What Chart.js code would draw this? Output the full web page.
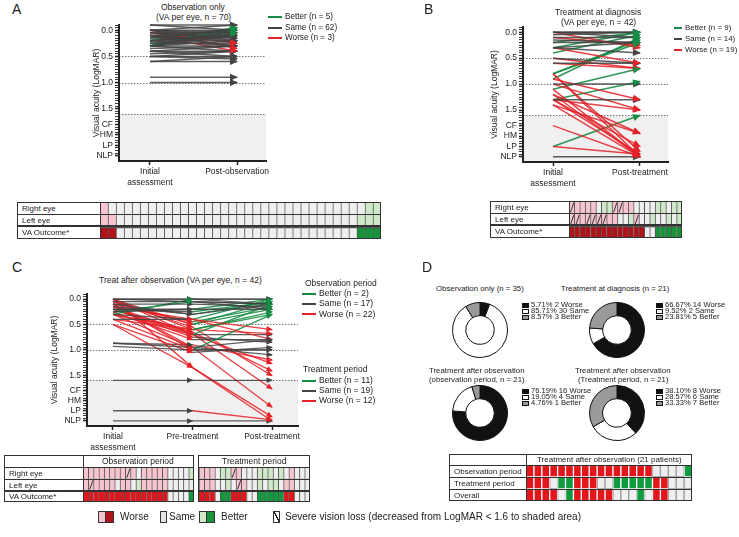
<!DOCTYPE html>
<html lang="en">
<head>
<meta charset="UTF-8" />
<title>Visual acuity outcomes</title>
<script src="https://cdn.jsdelivr.net/npm/chart.js@4.4.0/dist/chart.umd.min.js"></script>
<style>
  html, body { margin:0; padding:0; background:#fff; }
  body { position:relative; width:739px; height:537px; overflow:hidden; font-family:Arial, "Liberation Sans", sans-serif; color:#222; }
  canvas { position:absolute; }
  .t { position:absolute; white-space:nowrap; -webkit-font-smoothing:antialiased; }
  .r { position:absolute; box-sizing:border-box; }
</style>
</head>
<body>
<script>
// ---------- data ----------
// panel A, observation only : [initial, post-observation] LogMAR per eye
const aSame = [[-0.1,-0.1],[-0.1,0],[0,-0.1],[0,0],[0,0.1],[0,0.2],[0.05,0.05],[0.05,0.15],[0.1,0.1],[0.1,0],
  [0.1,0.2],[0.1,0.3],[0.15,0.15],[0.2,0.2],[0.2,0.1],[0.2,0.3],[0.2,0.05],[0.25,0.25],[0.3,0.3],[0.3,0.2],
  [0.3,0.1],[0.3,0.4],[0.35,0.3],[0.4,0.4],[0.4,0.3],[0.4,0.5],[0.45,0.4],[0.5,0.5],[0.5,0.55],[0.5,0.4],
  [0.6,0.6],[0.6,0.5],[0.9,0.9],[1.0,1.0],[0.15,0.0],[0.25,0.1],[0.0,0.05]];
const aBetter = [[0.2,0.0],[0.3,0.0],[0.3,-0.05],[0.2,-0.05],[0.3,0.05]];
const aWorse = [[0.05,0.25],[0.0,0.35],[0.1,0.4]];

// panel B, treatment at diagnosis : [initial, post-treatment]
const bSame = [[0,0],[0,0.1],[0.05,0.0],[0.1,0.1],[0.2,0.2],[0.15,0.2],[0.3,0.2],[0.3,0.4],[0.5,0.6],[0.6,0.6],
  [1.0,1.0],[1.3,1.3],[2.4,2.4],[0,0]];
const bBetter = [[0.3,0.0],[0.4,0.05],[0.8,0.15],[0.8,0.2],[0.9,0.1],[1.1,0.7],[1.3,0.95],[2.2,1.6],[0.2,0.0]];
const bWorse = [[0.0,0.3],[0.1,0.25],[0.3,0.6],[0.5,0.7],[0.6,0.7],[0.8,2.4],[0.8,2.3],[0.9,1.3],[1.0,1.5],[1.1,2.4],
  [1.2,1.95],[1.2,2.4],[1.3,2.2],[1.3,2.35],[1.4,2.4],[1.4,1.95],[1.8,2.4],[1.3,1.5],[2.2,2.35]];

// panel C, treat after observation : initial / pre-treatment / post-treatment, outcome codes per period
const cInit = [0.0,0.0,0.1,0.2,0.15,0.3,0.4,0.87,0.93,1.6,2.2,2.4,0.0,0.2,0.1,0.25,0.05,0.3,0.25,0.0,0.0,
  0.05,0.1,0.1,0.2,0.15,0.3,0.0,0.2,0.3,0.4,0.5,0.25,0.0,0.1,0.5,0.2,0.3,0.15,0.4,0.05,0.87];
const cPre = [0.0,0.05,0.1,0.2,0.3,0.4,0.4,0.95,1.0,1.6,2.2,2.4,0.0,0.25,0.3,0.2,0.05,0.0,0.05,0.5,0.6,
  0.5,0.45,1.0,0.7,0.4,0.6,0.7,0.75,0.95,1.0,1.05,0.8,1.35,0.95,1.35,0.65,0.7,0.68,0.6,0.55,0.9];
const cPost = [0.0,0.1,0.15,0.2,0.1,0.6,0.8,0.8,1.0,1.6,2.38,2.4,0.1,0.05,0.05,0.0,0.2,0.0,0.1,0.2,0.3,
  0.05,0.15,0.3,0.1,0.0,0.25,0.7,0.85,1.1,1.0,0.95,0.8,2.4,2.13,2.32,1.42,1.27,1.77,0.68,1.51,1.2];
const cObs = ['S','S','S','S','S','S','S','S','S','S','S','S','S','S','S','S','S','B','B','W','W',
  'W','W','W','W','W','W','W','W','W','W','W','W','W','W','W','W','W','W','W','W','S'];
const cTrt = ['S','S','S','S','S','W','W','S','S','S','W','S','S','B','B','B','S','S','S','B','B',
  'B','B','B','B','B','B','S','S','S','S','S','S','W','W','W','W','W','W','W','W','W'];

// y axis tick labels
const yLabelVals = [0, 0.5, 1, 1.5, 1.8, 2.0, 2.2, 2.4];
const yLabelText = ['0.0', '0.5', '1.0', '1.5', 'CF', 'HM', 'LP', 'NLP'];
const refLines = [0.5, 1.0, 1.6];
const shadeFrom = 1.6;

// panel D doughnuts : [worse, same, better]
const dObsOnly = [2, 30, 3];
const dAtDiag = [14, 2, 5];
const dObsPeriod = [16, 4, 1];
const dTrtPeriod = [8, 6, 7];
const dObsOnlyText = ['5.71% 2 Worse', '85.71% 30 Same', '8.57% 3 Better'];
const dAtDiagText = ['66.67% 14 Worse', '9.52% 2 Same', '23.81% 5 Better'];
const dObsPeriodText = ['76.19% 16 Worse', '19.05% 4 Same', '4.76% 1 Better'];
const dTrtPeriodText = ['38.10% 8 Worse', '28.57% 6 Same', '33.33% 7 Better'];

// outcome tables (P pink worse, p pink + severe loss, G light green, W same, R/X red, V/Y green)
const tabA_right = 'P' + 'WWWWWWWW' + 'WWWWWWWW' + 'WWWWWWWW' + 'WWWWWWWW' + 'GG';
const tabA_left  = 'PP' + 'WWWWWWWW' + 'WWWWWWWW' + 'WWWWWWWW' + 'WWWWWW' + 'GGG';
const tabA_va    = 'RR' + 'WWWWWWWW' + 'WWWWWWWW' + 'WWWWWWWW' + 'WWWWWW' + 'VVV';
const tabB_right = 'pPPPPWGGppPPWWWWGGWGG';
const tabB_left  = 'ppPppppPPWWGpWWGWWGWG';
const tabB_va    = 'RRRRRRRRRRRRRRWWVVVVV';
const tabC_obsRight = 'PPPPPPPPpPWPPPPPWWWWG';
const tabC_obsLeft  = 'PpPPPPWPPWGPPPPPWWWWW';
const tabC_obsVa    = 'XXXXXXXXXXXXXXXXWWWWY';
const tabC_trtRight = 'PPPWGGpPWWWGGGWGWPWWW';
const tabC_trtLeft  = 'PPPWWGWpPWWGWGGWPPWWW';
const tabC_trtVa    = 'XXXWYYXXXWWYYYYYXXWWW';
const tabD_obs     = 'XXXXXXXXXXXXXXXXWWWWY';
const tabD_trt     = 'XXXWYYXXXWWYYYYYXXWWW';
const tabD_overall = 'XXXXWYXXXXXWWWYWXXWWW';

// ---------- helpers ----------
Chart.defaults.font.family = 'Arial, "Liberation Sans", sans-serif';
Chart.defaults.color = '#222';
Chart.defaults.animation = false;

const lineCol = {S:'rgba(66,66,66,0.85)', W:'rgba(228,32,38,0.85)', B:'rgba(22,140,66,0.9)'};
const headCol = {S:'#444', W:'#e32229', B:'#168c44'};
const cellFill = {P:'#f6c4ce', p:'#f6c4ce', G:'#cfe8c8', W:'#efefef', R:'#b0121a', V:'#17933a', X:'#e2161c', Y:'#0f9a3e'};

function put(s, x, y, size, align) {
  const d = document.createElement('div');
  d.className = 't';
  d.textContent = s;
  d.style.fontSize = size + 'px';
  d.style.lineHeight = Math.round(size + 2) + 'px';
  document.body.appendChild(d);
  const w = d.offsetWidth, h = d.offsetHeight;
  d.style.top = Math.round(y - h / 2) + 'px';
  d.style.left = Math.round(align === 'c' ? x - w / 2 : x) + 'px';
  return d;
}
function rect(x, y, w, h, css) {
  const d = document.createElement('div');
  d.className = 'r';
  d.style.cssText += `left:${x}px;top:${y}px;width:${w}px;height:${h}px;` + (css || '');
  document.body.appendChild(d);
  return d;
}
function box(x, y, w, h) {
  const c = document.createElement('canvas');
  c.width = w; c.height = h;
  c.style.left = x + 'px'; c.style.top = y + 'px';
  c.style.width = w + 'px'; c.style.height = h + 'px';
  document.body.appendChild(c);
  return c;
}

function yTickList() {
  const t = [];
  for (let i = -2; i <= 48; i++) t.push({value: i / 20});
  return t;
}
function yLabelIndex(v) { return yLabelVals.findIndex(u => Math.abs(u - v) < 1e-6); }

// grey shading under LogMAR 1.6 and the dotted reference lines
const shadePlugin = {
  id: 'shade',
  beforeDraw(chart) {
    const {ctx, chartArea: a, scales: {y}} = chart;
    const ys = y.getPixelForValue(shadeFrom);
    ctx.save();
    ctx.fillStyle = '#f0f0f0';
    ctx.fillRect(a.left, ys, a.right - a.left, a.bottom - ys);
    ctx.strokeStyle = '#777';
    ctx.lineWidth = 1;
    ctx.setLineDash([1.5, 1.5]);
    refLines.forEach(v => {
      const py = Math.round(y.getPixelForValue(v)) + 0.5;
      ctx.beginPath(); ctx.moveTo(a.left, py); ctx.lineTo(a.right, py); ctx.stroke();
    });
    ctx.restore();
  }
};

// arrow heads at the end of each segment
const arrowPlugin = {
  id: 'arrows',
  afterDatasetsDraw(chart, args, opts) {
    const ctx = chart.ctx;
    chart.data.datasets.forEach((ds, i) => {
      const pts = chart.getDatasetMeta(i).data;
      for (let k = 1; k < pts.length; k++) {
        const a = pts[k - 1], b = pts[k];
        const ang = Math.atan2(b.y - a.y, b.x - a.x);
        ctx.save();
        ctx.translate(b.x, b.y);
        ctx.rotate(ang);
        ctx.fillStyle = headCol[ds.segCodes[k - 1]];
        ctx.beginPath();
        ctx.moveTo(1, 0);
        ctx.lineTo(1 - opts.len, -opts.w / 2);
        ctx.lineTo(1 - opts.len, opts.w / 2);
        ctx.closePath();
        ctx.fill();
        ctx.restore();
      }
    });
  }
};

function pairSets(pairs, code, bw) {
  return pairs.map(p => ({
    data: [{x: 0, y: p[0]}, {x: 1, y: p[1]}],
    borderColor: lineCol[code], borderWidth: bw, pointRadius: 0, clip: false, segCodes: [code]
  }));
}

function vaChart(cv, o) {
  return new Chart(cv, {
    type: 'line',
    data: {datasets: o.datasets},
    options: {
      responsive: false,
      animation: false,
      layout: {padding: {top: o.padTop, right: o.padRight, left: 0, bottom: 0}},
      plugins: {legend: {display: false}, tooltip: {enabled: false}, arrows: {len: o.arrowLen, w: o.arrowW}},
      elements: {point: {radius: 0}, line: {tension: 0}},
      scales: {
        x: {
          type: 'linear', min: o.xMin, max: o.xMax,
          afterBuildTicks: s => { s.ticks = o.xVals.map(v => ({value: v})); },
          afterFit: s => { s.height = o.xAxisH; },
          ticks: {autoSkip: false, maxRotation: 0, padding: 1, font: {size: 8.5, lineHeight: 1.3}, color: '#222',
                  callback: v => o.xText[o.xVals.indexOf(v)]},
          grid: {drawOnChartArea: false, tickLength: 4, tickColor: '#222', tickWidth: 1.5},
          border: {width: 2, color: '#222'}
        },
        y: {
          type: 'linear', reverse: true, min: -0.1, max: 2.5,
          afterBuildTicks: s => { s.ticks = yTickList(); },
          afterFit: s => { s.width = o.yAxisW; },
          ticks: {autoSkip: false, padding: 2, font: {size: 8.5}, color: '#222',
                  callback: v => { const k = yLabelIndex(v); return k < 0 ? '' : yLabelText[k]; }},
          grid: {drawOnChartArea: false, tickLength: 4, tickColor: '#222',
                 tickWidth: c => (c.tick && yLabelIndex(c.tick.value) >= 0) ? 1.6 : 0.9},
          border: {width: 2, color: '#222'},
          title: {display: true, text: 'Visual acuity (LogMAR)', font: {size: 8.5}, color: '#222', padding: {top: 0, bottom: 0}}
        }
      }
    },
    plugins: [shadePlugin, arrowPlugin]
  });
}

// slash marks for severe vision loss cells
const slashPlugin = {
  id: 'slash',
  afterDatasetsDraw(chart) {
    const ctx = chart.ctx;
    chart.data.datasets.forEach((ds, i) => {
      chart.getDatasetMeta(i).data.forEach((bar, j) => {
        if (ds.codes[j] !== 'p') return;
        const {x, y, base, width} = bar.getProps(['x', 'y', 'base', 'width'], true);
        const top = Math.min(y, base), bot = Math.max(y, base);
        ctx.save();
        ctx.strokeStyle = '#333';
        ctx.lineWidth = 1;
        ctx.beginPath();
        ctx.moveTo(x - width / 2 + 1.5, bot - 1);
        ctx.lineTo(x + width / 2 - 0.5, top + 1.5);
        ctx.stroke();
        ctx.restore();
      });
    });
  }
};

function gridChart(x, y, w, h, rows, opt) {
  const cv = box(x, y, w, h);
  const cols = rows[0].split('');
  return new Chart(cv, {
    type: 'bar',
    data: {
      labels: cols.map((_, i) => i + 1),
      datasets: rows.map((r, ri) => {
        const codes = r.split('');
        return {
          data: codes.map(() => 1),
          codes: codes,
          backgroundColor: codes.map(c => cellFill[c]),
          borderColor: opt.gap ? codes.map(c => c === 'W' ? '#9a9a9a' : '#fff') : '#555',
          borderWidth: opt.gap ? 1 : {top: ri === opt.thickRow ? 2 : 1, left: 1, right: 0, bottom: 0},
          borderSkipped: false,
          barPercentage: 1, categoryPercentage: 1, stack: 'g'
        };
      })
    },
    options: {
      responsive: false, animation: false,
      layout: {padding: 0},
      plugins: {legend: {display: false}, tooltip: {enabled: false}},
      scales: {
        x: {display: false, stacked: true},
        y: {display: false, stacked: true, reverse: true, min: 0, max: rows.length}
      }
    },
    plugins: [slashPlugin]
  });
}

function tableFrame(x, y, w, rowH, labelW, labels, thickRow) {
  const H = rowH.reduce((s, v) => s + v, 0);
  let yy = y;
  rowH.forEach((h, i) => {
    if (i > 0) {
      const t = i === thickRow ? 2 : 1;
      rect(x, yy - (t === 2 ? 1 : 0), w, t, 'background:#333');
    }
    if (labels[i]) put(labels[i], x + 5, yy + h / 2 + 0.5, 8, 'l');
    yy += h;
  });
  rect(x + labelW - 1, y, 1, H, 'background:#333');
  rect(x, y, w, H, 'border:1.5px solid #333');
}

function doughnut(cx, cy, values) {
  const cv = box(cx - 29, cy - 29, 58, 58);
  return new Chart(cv, {
    type: 'doughnut',
    data: {labels: ['Worse', 'Same', 'Better'],
           datasets: [{data: values, backgroundColor: ['#111', '#fff', '#9a9a9a'], borderColor: '#111', borderWidth: 1}]},
    options: {responsive: false, animation: false, cutout: '52%', layout: {padding: 1},
              plugins: {legend: {display: false}, tooltip: {enabled: false}}}
  });
}
function doughnutKey(x, y, texts) {
  const sw = ['#111', '#fff', '#9a9a9a'];
  texts.forEach((s, i) => {
    rect(x, y + i * 6 - 2.5, 7, 5, `background:${sw[i]};border:1px solid #111`);
    put(s, x + 8.5, y + i * 6, 7.6, 'l');
  });
}
function lineKey(x, y, w, code, label, size) {
  rect(x, y - 1, w, 2, `background:${headCol[code]}`);
  put(label, x + w + 3, y, size, 'l');
}

// ---------- panel A ----------
put('A', 12, 9, 14, 'l');
put('Observation only', 193, 7, 8.5, 'c');
put('(VA per eye, n = 70)', 193, 17, 8.5, 'c');
vaChart(box(92, 0, 188, 191), {
  padTop: 25, padRight: 14, yAxisW: 27, xAxisH: 30,
  xMin: -0.356, xMax: 1.333, xVals: [0, 1], xText: [['Initial', 'assessment'], 'Post-observation'],
  arrowLen: 8, arrowW: 7,
  datasets: [...pairSets(aSame, 'S', 1.5), ...pairSets(aWorse, 'W', 1.5), ...pairSets(aBetter, 'B', 1.8)]
});
lineKey(268, 17, 14, 'B', 'Better (n = 5)', 8.2);
lineKey(268, 27.5, 14, 'S', 'Same (n = 62)', 8.2);
lineKey(268, 38, 14, 'W', 'Worse (n = 3)', 8.2);

// ---------- panel B ----------
put('B', 424, 9, 14, 'l');
put('Treatment at diagnosis', 598, 12, 8.5, 'c');
put('(VA per eye, n = 42)', 598, 22, 8.5, 'c');
vaChart(box(490, 0, 188, 192), {
  padTop: 27, padRight: 10, yAxisW: 33, xAxisH: 30,
  xMin: -0.345, xMax: 1.322, xVals: [0, 1], xText: [['Initial', 'assessment'], 'Post-treatment'],
  arrowLen: 8, arrowW: 7,
  datasets: [...pairSets(bSame, 'S', 1.5), ...pairSets(bWorse, 'W', 1.5), ...pairSets(bBetter, 'B', 1.6)]
});
lineKey(674, 27.5, 8, 'B', 'Better (n = 9)', 7.9);
lineKey(674, 38.5, 8, 'S', 'Same (n = 14)', 7.9);
lineKey(674, 49.5, 8, 'W', 'Worse (n = 19)', 7.9);

// ---------- panel C ----------
put('C', 12, 267, 14, 'l');
put('Treat after observation (VA per eye, n = 42)', 180, 280, 8.5, 'c');
const cOrder = cInit.map((_, i) => i).sort((i, j) => {
  const r = k => (cObs[k] === 'S' && cTrt[k] === 'S') ? 0 : 1;
  return r(i) - r(j);
});
vaChart(box(50, 270, 260, 186), {
  padTop: 24, padRight: 12, yAxisW: 37, xAxisH: 30,
  xMin: -0.327, xMax: 2.327, xVals: [0, 1, 2], xText: [['Initial', 'assessment'], 'Pre-treatment', 'Post-treatment'],
  arrowLen: 6.5, arrowW: 5.5,
  datasets: cOrder.map(i => ({
    data: [{x: 0, y: cInit[i]}, {x: 1, y: cPre[i]}, {x: 2, y: cPost[i]}],
    borderColor: lineCol[cObs[i]], borderWidth: 1.3, pointRadius: 0, clip: false,
    segCodes: [cObs[i], cTrt[i]],
    segment: {borderColor: ctx => lineCol[[cObs[i], cTrt[i]][ctx.p0DataIndex]]}
  }))
});
put('Observation period', 305, 283, 8.5, 'l');
lineKey(302, 293.5, 14, 'B', 'Better (n = 2)', 8.5);
lineKey(302, 303.5, 14, 'S', 'Same (n = 17)', 8.5);
lineKey(302, 314, 14, 'W', 'Worse (n = 22)', 8.5);
put('Treatment period', 303, 369.5, 8.5, 'l');
lineKey(302, 380.5, 14, 'B', 'Better (n = 11)', 8.5);
lineKey(302, 390.5, 14, 'S', 'Same (n = 19)', 8.5);
lineKey(302, 400.5, 14, 'W', 'Worse (n = 12)', 8.5);

// ---------- panel D ----------
put('D', 422, 267, 14, 'l');
put('Observation only (n = 35)', 480, 289, 7.8, 'c');
put('Treatment at diagnosis (n = 21)', 615, 289, 7.8, 'c');
put('Treatment after observation', 477, 371, 7.8, 'c');
put('(observation period, n = 21)', 477, 379.5, 7.8, 'c');
put('Treatment after observation', 623, 371, 7.8, 'c');
put('(Treatment period, n = 21)', 623, 379.5, 7.8, 'c');
doughnut(480, 330, dObsOnly);
doughnut(617, 330, dAtDiag);
doughnut(480, 413, dObsPeriod);
doughnut(617, 413, dTrtPeriod);
doughnutKey(522, 305, dObsOnlyText);
doughnutKey(656, 305, dAtDiagText);
doughnutKey(522, 391, dObsPeriodText);
doughnutKey(656, 391, dTrtPeriodText);

// ---------- tables ----------
gridChart(100, 202, 281, 37, [tabA_right, tabA_left, tabA_va], {thickRow: 2});
tableFrame(17, 202, 364, [12, 12, 13], 84, ['Right eye', 'Left eye', 'VA Outcome*'], 2);

gridChart(569, 201, 113, 37, [tabB_right, tabB_left, tabB_va], {thickRow: 2});
tableFrame(490, 201, 192, [12, 12, 13], 80, ['Right eye', 'Left eye', 'VA Outcome*'], 2);

gridChart(83, 467, 111, 35, [tabC_obsRight, tabC_obsLeft, tabC_obsVa], {thickRow: 2});
gridChart(199, 467, 111, 35, [tabC_trtRight, tabC_trtLeft, tabC_trtVa], {thickRow: 2});
tableFrame(4, 455, 306, [12, 12, 12, 11], 80, ['', 'Right eye', 'Left eye', 'VA Outcome*'], 3);
rect(193, 455, 6, 47, 'background:#fff;border-left:1.5px solid #333;border-right:1.5px solid #333');
put('Observation period', 138, 461.5, 8.5, 'c');
put('Treatment period', 254, 461.5, 8.5, 'c');

gridChart(526, 465, 166, 36, [tabD_obs, tabD_trt, tabD_overall], {gap: true});
tableFrame(449, 454, 243, [11, 12, 12, 12], 78, ['', 'Observation period', 'Treatment period', 'Overall'], -1);
put('Treatment after observation (21 patients)', 609, 460, 8, 'c');

// ---------- bottom key ----------
const keyY = 517;
rect(98, keyY - 6, 8, 12, 'background:#f6c4ce;border:1px solid #333');
rect(105, keyY - 6, 9, 12, 'background:#b0121a;border:1px solid #333');
put('Worse', 120, keyY, 10, 'l');
rect(160, keyY - 6, 7, 12, 'background:#e4e4e4;border:1px solid #333');
put('Same', 169, keyY, 10, 'l');
rect(199, keyY - 6, 8, 12, 'background:#cfe8c8;border:1px solid #333');
rect(206, keyY - 6, 9, 12, 'background:#17933a;border:1px solid #333');
put('Better', 221, keyY, 10, 'l');
rect(273, keyY - 6, 7, 12, 'background:linear-gradient(to top right, #fff 44%, #222 46%, #222 58%, #fff 60%);border:1px solid #333');
put('Severe vision loss (decreased from LogMAR < 1.6 to shaded area)', 285, keyY, 10, 'l');
</script>
</body>
</html>
